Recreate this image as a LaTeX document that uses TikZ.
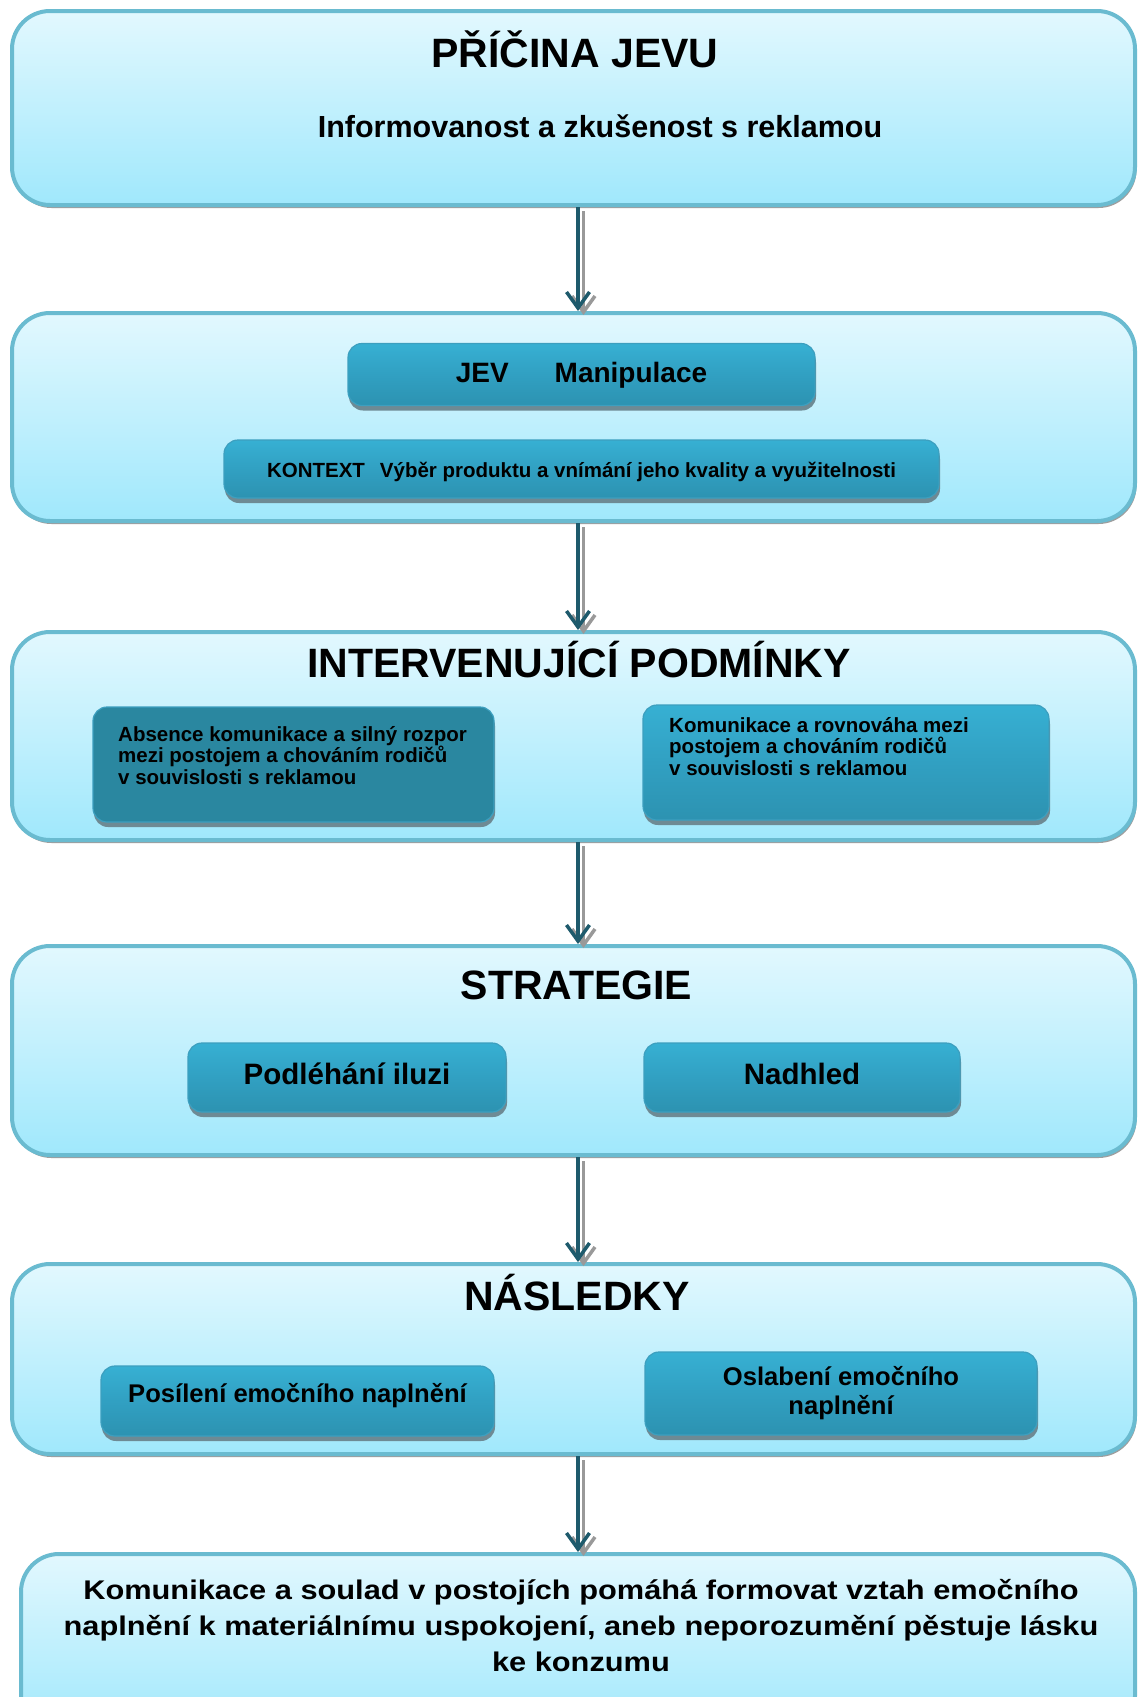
\documentclass[tikz,border=0pt]{standalone}
\usepackage{fontspec}
\setmainfont{Liberation Sans}
\newfontfamily\widefont[FakeStretch=1.14]{Liberation Sans}
\usetikzlibrary{shadows,arrows.meta}
\definecolor{outerTop}{HTML}{E2F8FE}
\definecolor{outerBot}{HTML}{A0E8FC}
\definecolor{outerLine}{HTML}{6ABBD0}
\definecolor{innerTop}{HTML}{38B3D6}
\definecolor{innerMid}{HTML}{31A0C2}
\definecolor{innerBot}{HTML}{2885A0}
\definecolor{innerLine}{HTML}{3C9FBF}
\definecolor{innerShadow}{HTML}{6E8A94}
\definecolor{darkBot}{HTML}{2A87A0}
\definecolor{arrowCol}{HTML}{1E5A6C}
\pgfdeclareverticalshading{innershade}{100bp}{color(0bp)=(innerBot); color(50bp)=(innerMid); color(80bp)=(innerTop); color(100bp)=(innerTop)}
\pgfdeclareverticalshading{darkshade}{100bp}{color(0bp)=(darkBot); color(82bp)=(darkBot); color(100bp)=(innerTop)}
\begin{document}
\begin{tikzpicture}[x=1pt,y=-1pt,
  outerbox/.style={draw=outerLine, line width=4pt, rounded corners=38pt, top color=outerTop, bottom color=outerBot,
     drop shadow={shadow xshift=1.5pt, shadow yshift=-3pt, fill=black!38, opacity=1}, inner sep=0pt},
  innerbox/.style={draw=innerLine, line width=1.2pt, rounded corners=14pt, shade, shading=innershade,
     drop shadow={shadow xshift=1pt, shadow yshift=-5pt, fill=innerShadow, opacity=1}, inner sep=0pt},
  darkbox/.style={innerbox, shading=darkshade},
  titletext/.style={font=\fontsize{41}{48}\selectfont\bfseries, anchor=base, inner sep=0pt},
  subtext/.style={font=\fontsize{30.5}{36}\selectfont\bfseries, anchor=base, inner sep=0pt},
  smalltext/.style={font=\fontsize{20.5}{21.5}\selectfont\bfseries, align=left, anchor=north west, inner sep=0pt},
  arr/.style={draw=arrowCol, line width=3.5pt, -{Straight Barb[length=16pt,width=23pt]}},
  arrsh/.style={draw=black!40, line width=3.5pt, -{Straight Barb[length=16pt,width=23pt]}}
]
\fill[white] (0,0) rectangle (1140,1697);
\useasboundingbox (0,0) rectangle (1140,1697);

% outer boxes
\node[outerbox, minimum width=1123pt, minimum height=194pt] (b1) at (573.5,108) {};
\node[outerbox, minimum width=1123pt, minimum height=208pt] (b2) at (573.5,417) {};
\node[outerbox, minimum width=1123pt, minimum height=208pt] (b3) at (573.5,736) {};
\node[outerbox, minimum width=1123pt, minimum height=209pt] (b4) at (573.5,1050.5) {};
\node[outerbox, minimum width=1123pt, minimum height=190pt] (b5) at (573.5,1359) {};
\node[outerbox, minimum width=1114pt, minimum height=180pt] (b6) at (578,1644) {};

% titles
\node[titletext] (t1) at (575,67) {PŘÍČINA JEVU};
\node[subtext] (t1b) at (600,137) {Informovanost a zkušenost s reklamou};
\node[titletext] (t3) at (579,677) {INTERVENUJÍCÍ PODMÍNKY};
\node[titletext] (t4) at (576.5,999) {STRATEGIE};
\node[titletext] (t5) at (577,1310) {NÁSLEDKY};

% box 2 inner
\node[innerbox, minimum width=467pt, minimum height=62pt, text height=20pt, text depth=5pt,
      font=\fontsize{28}{32}\selectfont\bfseries] (jev) at (581.5,374.5) {JEV\hspace*{46pt}Manipulace};
\node[innerbox, minimum width=715pt, minimum height=58pt, text height=20pt, text depth=4pt,
      font=\fontsize{20.5}{24}\selectfont\bfseries] (kontext) at (581.5,469)
      {KONTEXT\hspace*{15pt}Výběr produktu a vnímání jeho kvality a využitelnosti};

% box 3 inner
\node[darkbox, minimum width=401pt, minimum height=115pt] (absence) at (293.5,764.5) {};
\node[smalltext] (absencetext) at (118,726) {Absence komunikace a silný rozpor\\mezi postojem a chováním rodičů\\v souvislosti s reklamou};
\node[innerbox, minimum width=406pt, minimum height=115pt] (komun) at (846,762.5) {};
\node[smalltext] (komuntext) at (669,717) {Komunikace a rovnováha mezi\\postojem a chováním rodičů\\v souvislosti s reklamou};

% box 4 inner
\node[innerbox, minimum width=318pt, minimum height=69pt, text height=20pt, text depth=7pt,
      font=\fontsize{29.5}{34}\selectfont\bfseries] (podl) at (347,1077.5) {Podléhání iluzi};
\node[innerbox, minimum width=316pt, minimum height=69pt, text height=20pt, text depth=7pt,
      font=\fontsize{29.5}{34}\selectfont\bfseries] (nadhled) at (802,1077.5) {Nadhled};

% box 5 inner
\node[innerbox, minimum width=393pt, minimum height=70pt, text height=10pt, text depth=8pt,
      font=\fontsize{25.6}{29}\selectfont\bfseries] (posil) at (297.5,1401) {Posílení emočního naplnění};
\node[innerbox, minimum width=392pt, minimum height=83pt, align=center,
      font=\fontsize{25.6}{29}\selectfont\bfseries] (oslab) at (841,1393.5) {Oslabení emočního\\naplnění};

% final text
\node[font=\widefont\fontsize{27}{36}\selectfont\bfseries, align=center, anchor=north, inner sep=0pt] (t6) at (581,1579)
  {Komunikace a soulad v postojích pomáhá formovat vztah emočního\\naplnění k materiálnímu uspokojení, aneb neporozumění pěstuje lásku\\ke konzumu};

% arrows
\foreach \a/\b in {b1/b2,b2/b3,b3/b4,b4/b5,b5/b6}{
  \draw[arrsh] ([xshift=10pt,yshift=-4pt]\a.south) -- ([xshift=10pt,yshift=-4pt]\a.south |- \b.north);
  \draw[arr] ([xshift=4.5pt]\a.south) -- ([xshift=4.5pt]\a.south |- \b.north);
}
\end{tikzpicture}
\end{document}
